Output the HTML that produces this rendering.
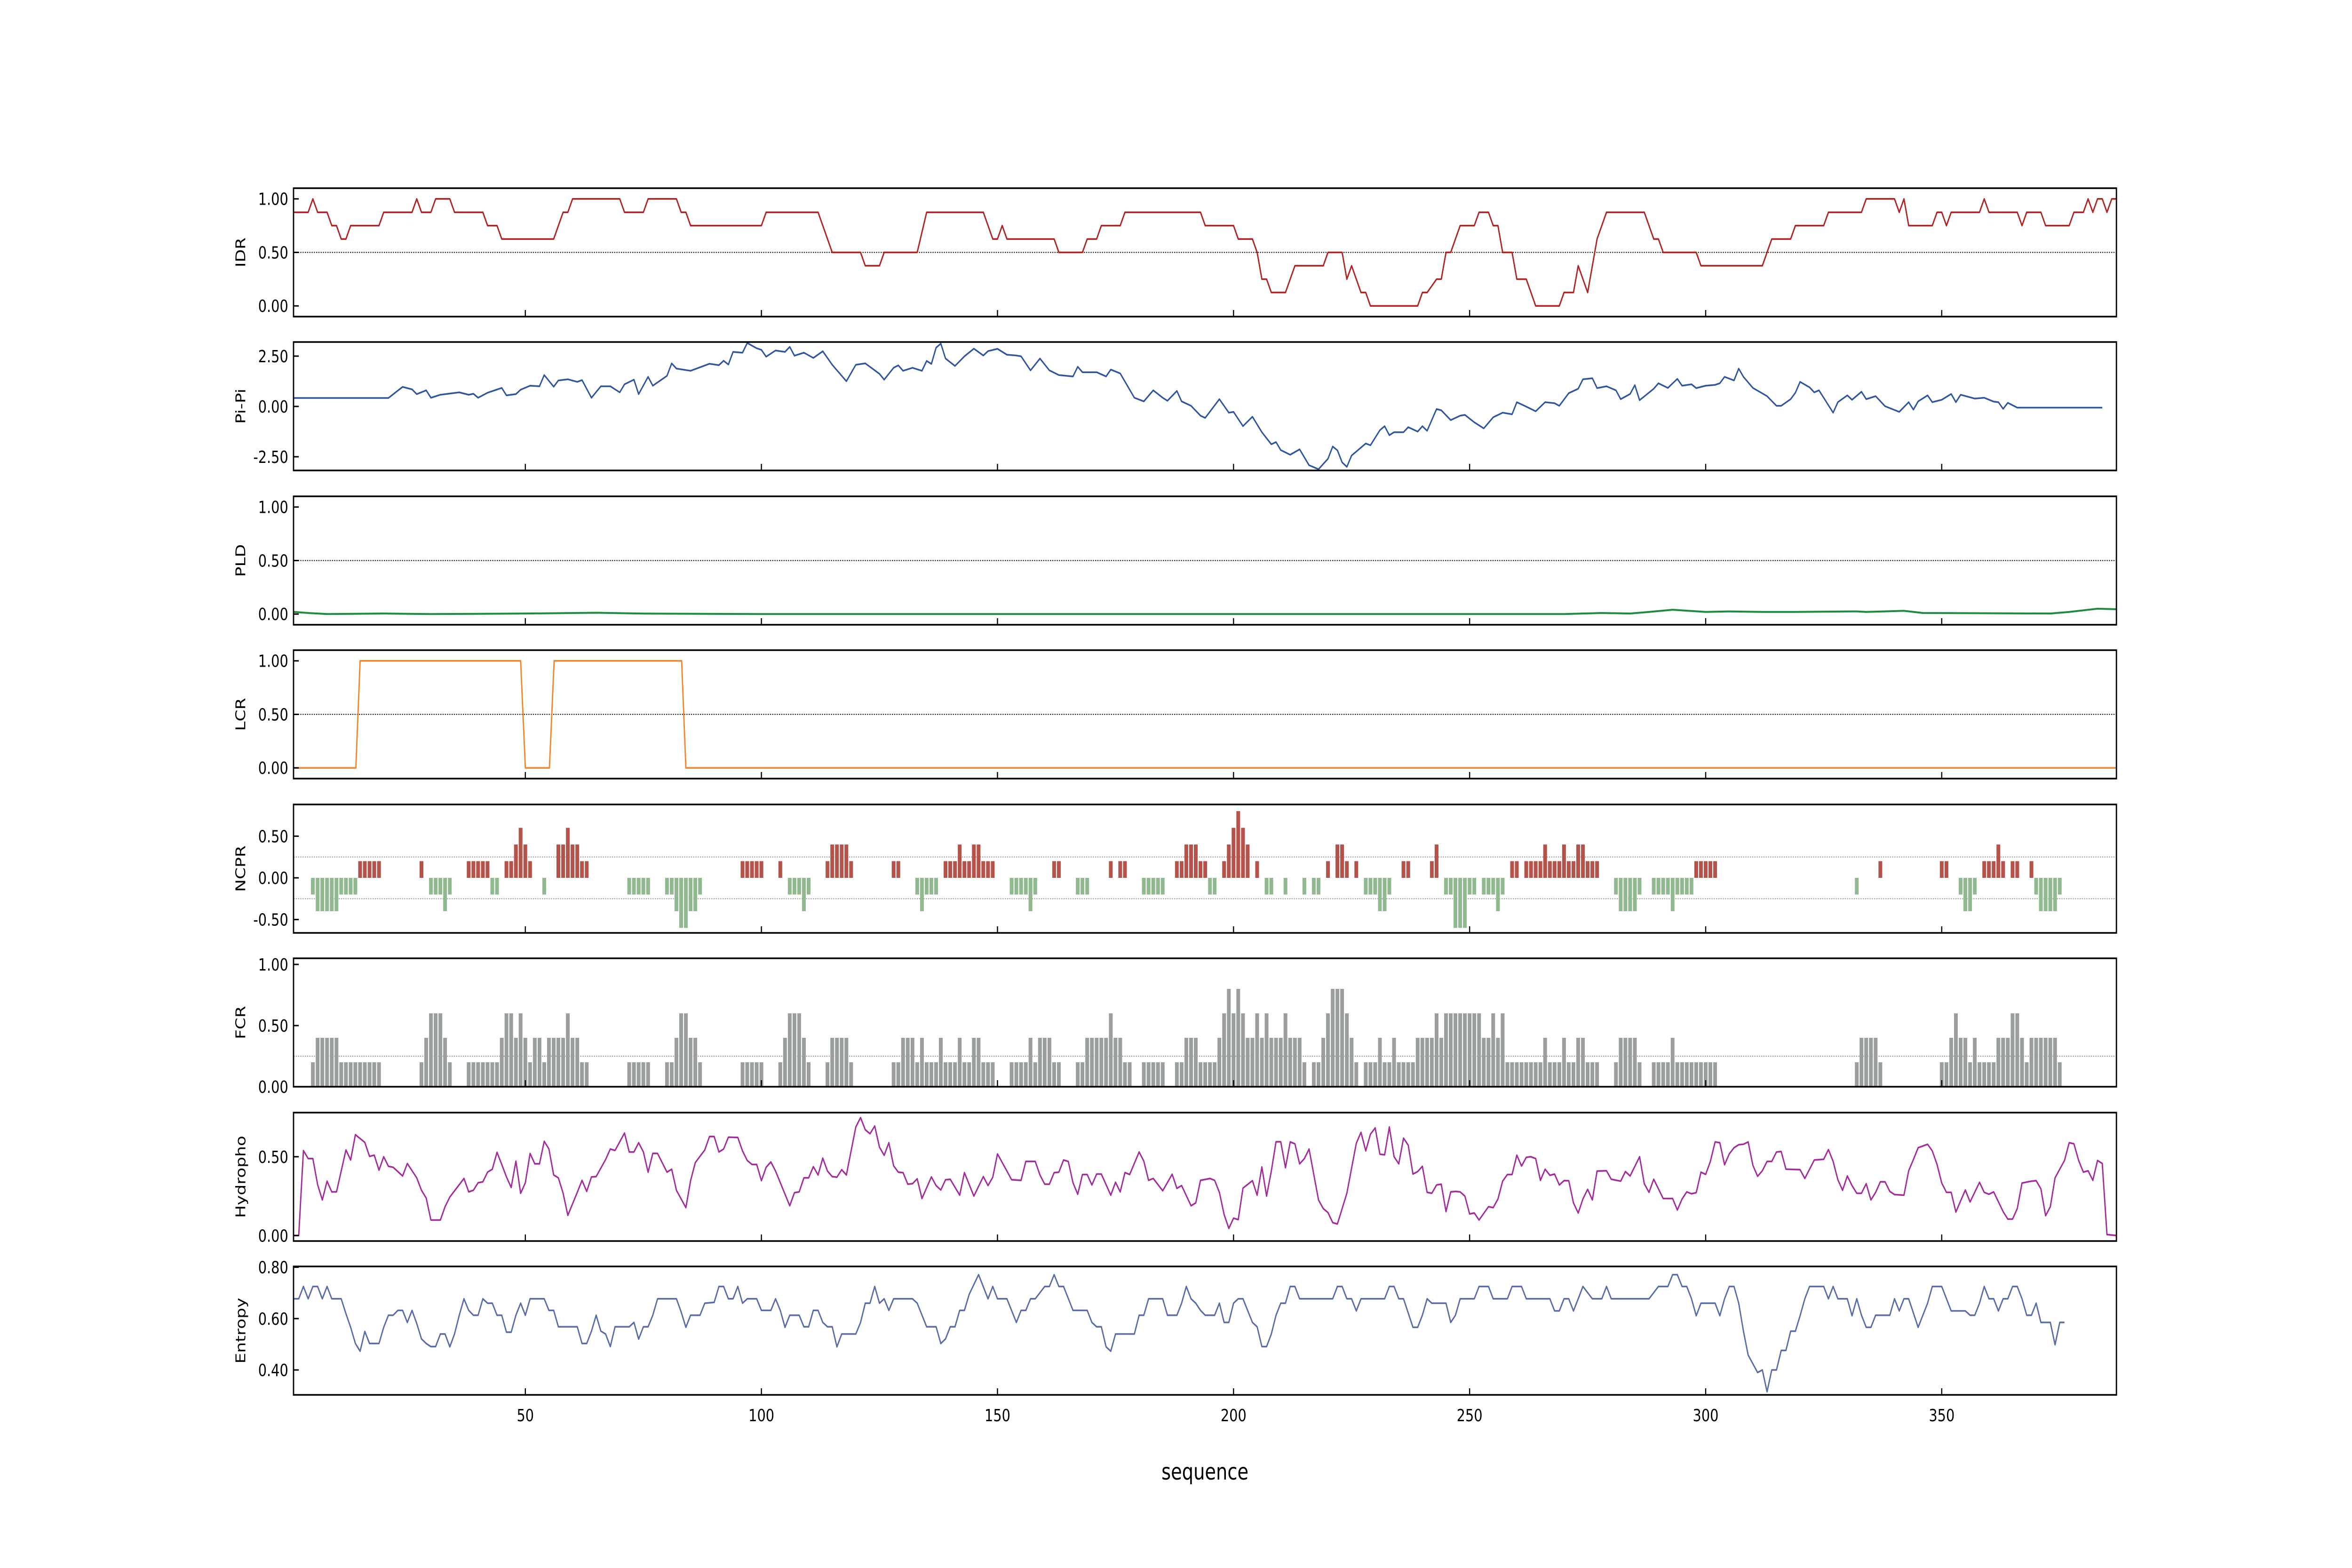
<!DOCTYPE html>
<html><head><meta charset="utf-8"><title>Sequence profile</title>
<style>
html,body{margin:0;padding:0;background:#fff;width:100%;height:100%;overflow:hidden;}
svg{display:block;width:100vw;height:100vh;font-family:"DejaVu Sans","Liberation Sans",sans-serif;}
</style></head>
<body>
<svg id="chart" xmlns="http://www.w3.org/2000/svg" viewBox="0 0 6250 3333" preserveAspectRatio="none">
<rect x="0" y="0" width="6250" height="3333" fill="#fff"/>
<text x="3202" y="3145" font-size="48" text-anchor="middle">sequence</text>
</svg>
<script>
// ---------- data ----------
const xTickValues = [50,100,150,200,250,300,350];
const xTickLabels = ["50","100","150","200","250","300","350"];

const idrPos = [1,4,5,6,8,9,10,11,12,13,19,20,26,27,28,30,31,34,35,41,42,44,45,56,58,59,60,70,71,75,76,82,83,84,85,100,101,112,115,121,122,125,126,133,135,147,149,150,151,152,162,163,168,169,171,172,176,177,193,194,200,201,204,205,206,207,208,211,213,219,220,223,224,225,227,228,229,239,240,241,243,244,245,246,248,251,252,254,255,256,257,259,260,262,264,269,270,272,273,275,277,279,287,289,290,291,298,299,312,314,318,319,325,326,333,334,340,341,342,343,348,349,350,351,352,358,359,360,366,367,368,371,372,377,378,380,381,382,383,384,385,386,387];
const idrVal = [.875,.875,1,.875,.875,.75,.75,.625,.625,.75,.75,.875,.875,1,.875,.875,1,1,.875,.875,.75,.75,.625,.625,.875,.875,1,1,.875,.875,1,1,.875,.875,.75,.75,.875,.875,.5,.5,.375,.375,.5,.5,.875,.875,.625,.625,.75,.625,.625,.5,.5,.625,.625,.75,.75,.875,.875,.75,.75,.625,.625,.5,.25,.25,.125,.125,.375,.375,.5,.5,.25,.375,.125,.125,0,0,.125,.125,.25,.25,.5,.5,.75,.75,.875,.875,.75,.75,.5,.5,.25,.25,0,0,.125,.125,.375,.125,.625,.875,.875,.625,.625,.5,.5,.375,.375,.625,.625,.75,.75,.875,.875,1,1,.875,1,.75,.75,.875,.875,.75,.875,.875,1,.875,.875,.75,.875,.875,.75,.75,.875,.875,1,.875,1,1,.875,1,1];

const pipiPos = [1,21,24,26,27,29,30,32,36,38,39,40,42,45,46,48,49,51,53,54,56,57,59,61,62,64,66,68,70,71,73,74,76,77,80,81,82,85,89,91,92,93,94,96,97,99,100,101,103,105,106,107,109,111,113,115,118,120,122,125,126,128,129,130,132,134,135,136,137,138,139,141,143,145,147,148,150,152,154,155,157,159,161,163,166,167,168,171,173,174,176,179,181,183,185,186,188,189,191,193,194,197,199,200,202,204,206,208,209,210,212,214,216,218,220,221,222,223,224,225,228,229,231,232,233,234,236,237,239,240,241,243,244,246,248,249,251,253,255,257,259,260,262,264,266,268,269,271,273,274,276,277,279,281,282,284,285,286,289,290,292,294,295,297,298,300,302,303,304,306,307,308,310,313,315,316,318,319,320,322,323,324,327,328,330,331,333,334,336,338,341,343,344,345,347,348,350,352,353,354,357,359,361,362,363,364,366,384];
const pipiVal = [.42,.42,.97,.85,.61,.80,.43,.58,.70,.58,.63,.43,.68,.92,.55,.61,.83,1.03,1.0,1.56,.98,1.29,1.35,1.22,1.31,.43,1.0,1.0,.70,1.10,1.33,.61,1.47,1.03,1.52,2.14,1.88,1.77,2.12,2.05,2.27,2.08,2.71,2.67,3.15,2.89,2.81,2.47,2.78,2.71,2.96,2.52,2.67,2.41,2.74,2.07,1.25,2.07,2.14,1.62,1.33,1.92,2.04,1.77,1.92,1.77,2.26,2.11,2.92,3.12,2.38,2.01,2.49,2.87,2.53,2.75,2.86,2.57,2.53,2.49,1.79,2.38,1.79,1.56,1.49,1.97,1.70,1.70,1.49,1.83,1.64,.43,.25,.80,.43,.28,.77,.25,.03,-.46,-.57,.36,-.31,-.27,-.98,-.51,-1.28,-1.88,-1.77,-2.17,-2.4,-2.13,-2.92,-3.12,-2.6,-1.99,-2.18,-2.78,-3.0,-2.44,-1.84,-1.93,-1.18,-.98,-1.43,-1.28,-1.28,-1.03,-1.25,-.98,-1.21,-.13,-.19,-.68,-.46,-.42,-.79,-1.09,-.54,-.31,-.39,.21,-.01,-.24,.21,.16,.03,.66,.88,1.35,1.40,.91,1.0,.80,.36,.62,1.06,.31,.88,1.15,.92,1.37,1.03,1.10,.91,1.03,1.07,1.15,1.47,1.29,1.88,1.47,.92,.51,.03,.03,.36,.68,1.22,.95,.70,.80,-.31,.21,.55,.33,.73,.36,.51,.01,-.27,.21,-.16,.25,.55,.21,.33,.62,.21,.58,.39,.43,.24,.21,-.12,.18,-.06,-.06];

const pldPos = [1,4,8,20,30,50,65,75,100,270,278,284,288,293,300,305,312,319,332,334,342,346,373,377,383,387];
const pldVal = [.02,.01,0,.005,0,.005,.012,.004,0,0,.01,.005,.02,.04,.02,.025,.02,.02,.025,.02,.03,.01,.005,.02,.05,.045];

const lcrPos = [1,14.1,15,49,50,55.1,56.1,83.1,84,387];
const lcrVal = [0,0,1,1,0,0,1,1,0,0];

const ncprStart = [5,6,11,15,28,30,33,34,38,43,46,48,49,50,51,54,57,59,60,62,72,80,82,83,85,87,96,104,106,109,110,114,115,119,128,133,134,135,139,142,143,145,147,153,157,158,162,167,174,176,181,188,190,193,195,198,199,200,201,202,203,205,207,211,215,217,220,222,224,226,228,231,233,236,242,243,245,247,250,253,256,257,259,262,266,267,270,271,273,275,281,282,286,289,293,294,298,332,337,350,354,355,357,359,362,363,365,369,370,371,375];
const ncprEnd   = [5,10,14,19,28,32,33,34,42,44,47,48,49,50,51,54,58,59,61,63,76,81,82,84,86,87,100,104,108,109,110,114,118,119,129,133,134,137,141,142,144,146,149,156,157,158,163,169,174,177,185,189,192,194,196,198,199,200,201,202,203,205,208,211,215,218,220,223,224,226,230,232,233,237,242,243,246,249,251,255,256,257,260,265,266,269,270,272,274,277,281,285,286,292,293,297,302,332,337,351,354,356,357,361,362,363,366,369,370,374,375];
const ncprValue = [-.2,-.4,-.2,.2,.2,-.2,-.4,-.2,.2,-.2,.2,.4,.6,.4,.2,-.2,.4,.6,.4,.2,-.2,-.2,-.4,-.6,-.4,-.2,.2,.2,-.2,-.4,-.2,.2,.4,.2,.2,-.2,-.4,-.2,.2,.4,.2,.4,.2,-.2,-.4,-.2,.2,-.2,.2,.2,-.2,.2,.4,.2,-.2,.2,.4,.6,.8,.6,.4,.2,-.2,-.2,-.2,-.2,.2,.4,.2,.2,-.2,-.4,-.2,.2,.2,.4,-.2,-.6,-.2,-.2,-.4,-.2,.2,.2,.4,.2,.4,.2,.4,.2,-.2,-.4,-.2,-.2,-.4,-.2,.2,-.2,.2,.2,-.2,-.4,-.2,.2,.4,.2,.2,.2,-.2,-.4,-.2];

const fcrStart = [5,6,11,28,29,30,33,34,38,45,46,48,49,50,51,52,54,55,59,60,62,72,80,82,83,85,87,96,104,105,106,109,110,114,115,119,128,130,133,134,135,138,139,142,143,145,147,153,157,158,159,162,167,169,174,175,177,181,188,190,193,197,198,199,200,201,202,203,205,206,207,208,211,212,215,217,219,220,221,224,225,226,228,231,232,234,235,239,243,244,245,253,255,256,257,258,259,266,267,270,271,273,275,281,282,286,289,293,294,332,333,337,350,352,353,354,356,357,358,362,365,367,368,369,375];
const fcrEnd   = [5,10,19,28,29,32,33,34,44,45,47,48,49,50,51,53,54,58,59,61,63,76,81,82,84,86,87,100,104,105,108,109,110,114,118,119,129,132,133,134,137,138,141,142,144,146,149,156,157,158,161,163,168,173,174,176,178,185,189,192,196,197,198,199,200,201,202,204,205,206,207,210,211,214,215,218,219,220,223,224,225,226,230,231,233,234,238,242,243,244,252,254,255,256,257,258,265,266,269,270,272,274,277,281,285,286,292,293,302,332,336,337,351,352,353,355,356,357,361,364,366,367,368,374,375];
const fcrValue = [.2,.4,.2,.2,.4,.6,.4,.2,.2,.4,.6,.4,.6,.4,.2,.4,.2,.4,.6,.4,.2,.2,.2,.4,.6,.4,.2,.2,.2,.4,.6,.4,.2,.2,.4,.2,.2,.4,.2,.4,.2,.4,.2,.4,.2,.4,.2,.2,.4,.2,.4,.2,.2,.4,.6,.4,.2,.2,.2,.4,.2,.4,.6,.8,.6,.8,.6,.4,.6,.4,.6,.4,.6,.4,.2,.2,.4,.6,.8,.6,.4,.2,.2,.4,.2,.4,.2,.4,.6,.4,.6,.4,.6,.4,.6,.2,.2,.4,.2,.4,.2,.4,.2,.2,.4,.2,.2,.4,.2,.2,.4,.2,.2,.4,.6,.4,.2,.4,.2,.4,.6,.4,.2,.4,.2];

const hydroPos = [1,2,3,4,5,6,7,8,9,10,12,13,14,16,17,18,19,20,21,22,24,25,27,28,29,30,32,33,34,37,38,39,40,41,42,43,44,45,46,47,48,49,50,51,52,53,54,55,56,57,58,59,61,62,63,64,65,67,68,69,71,72,73,74,75,76,77,78,80,81,82,84,85,86,88,89,90,91,92,93,95,96,97,98,99,100,101,102,103,106,107,108,109,110,111,112,113,114,115,116,117,118,120,121,122,123,124,125,126,127,128,129,130,131,132,133,134,136,137,138,139,140,142,143,145,147,148,149,150,152,153,155,156,158,159,160,161,162,163,164,165,166,167,168,169,170,171,172,174,175,176,177,178,180,181,182,183,185,187,188,189,191,192,193,195,196,197,198,199,200,201,202,204,205,206,207,208,209,210,211,212,213,214,215,216,218,219,220,221,222,224,226,227,228,229,230,231,232,233,234,235,236,237,238,239,240,241,242,243,244,245,246,247,248,249,250,251,252,254,255,256,257,258,259,260,261,262,263,264,265,266,267,268,269,270,271,272,273,274,275,276,277,279,280,282,283,284,286,287,288,289,291,293,294,295,296,297,298,299,300,301,302,303,304,305,306,307,308,309,310,311,312,313,314,315,316,317,320,321,323,325,326,327,328,329,330,331,332,333,334,335,336,337,338,339,340,342,343,344,345,347,348,349,350,351,352,353,354,355,356,358,359,360,361,363,364,365,366,367,369,370,371,372,373,374,376,377,378,379,380,381,382,383,384,385,387];
const hydroVal = [0,0,.539,.488,.488,.323,.226,.345,.277,.277,.543,.479,.64,.591,.502,.51,.415,.5,.439,.433,.378,.457,.366,.287,.238,.098,.098,.183,.244,.362,.277,.287,.335,.341,.402,.421,.528,.451,.372,.305,.472,.268,.335,.521,.455,.455,.598,.549,.384,.366,.268,.128,.274,.35,.28,.372,.374,.482,.549,.54,.65,.53,.53,.589,.53,.402,.521,.521,.402,.421,.287,.177,.348,.463,.543,.628,.628,.53,.549,.624,.622,.537,.476,.451,.451,.348,.433,.467,.409,.189,.272,.277,.366,.366,.437,.384,.491,.409,.374,.37,.418,.384,.689,.748,.671,.646,.695,.561,.509,.589,.443,.402,.399,.326,.329,.36,.235,.372,.317,.289,.354,.357,.256,.399,.25,.374,.317,.37,.518,.409,.354,.35,.47,.47,.384,.326,.326,.399,.402,.479,.47,.335,.262,.387,.387,.321,.39,.39,.256,.338,.277,.399,.387,.53,.472,.35,.362,.284,.389,.299,.317,.189,.207,.35,.362,.35,.274,.134,.045,.11,.101,.301,.348,.256,.435,.25,.409,.595,.595,.43,.594,.582,.455,.488,.549,.226,.171,.146,.082,.073,.268,.585,.655,.537,.643,.683,.516,.512,.689,.5,.455,.618,.573,.39,.406,.439,.274,.268,.321,.326,.152,.277,.28,.277,.25,.137,.143,.098,.183,.177,.232,.345,.387,.387,.51,.441,.496,.5,.488,.35,.421,.382,.39,.321,.348,.348,.207,.143,.232,.293,.226,.409,.411,.357,.345,.406,.378,.5,.329,.274,.357,.235,.235,.162,.232,.277,.265,.272,.402,.388,.47,.594,.589,.449,.518,.557,.576,.579,.594,.445,.376,.411,.47,.47,.53,.533,.421,.418,.362,.479,.484,.545,.47,.354,.287,.378,.317,.268,.268,.329,.226,.274,.341,.341,.28,.26,.256,.411,.482,.557,.579,.537,.451,.333,.274,.274,.149,.22,.289,.213,.338,.274,.262,.277,.152,.104,.104,.171,.333,.345,.348,.296,.126,.183,.366,.476,.589,.582,.476,.402,.411,.35,.476,.457,.006,0];

const entropyPos = [1,2,3,4,5,6,7,8,9,11,12,13,14,15,16,17,19,20,21,22,23,24,25,26,27,28,29,30,31,32,33,34,35,36,37,38,39,40,41,42,43,44,45,46,47,48,49,50,51,54,55,56,57,61,62,63,64,65,66,67,68,69,72,73,74,75,76,77,78,82,83,84,85,87,88,90,91,92,93,94,95,96,97,99,100,102,103,104,105,106,108,109,110,111,112,113,114,115,116,117,120,121,122,123,124,125,126,127,128,132,133,135,137,138,139,140,141,142,143,144,146,148,149,150,152,154,155,156,157,158,160,161,162,163,164,166,169,170,171,172,173,174,175,179,180,181,182,185,186,188,189,190,191,192,193,194,196,197,198,199,200,201,202,204,205,206,207,208,209,210,211,212,213,214,221,222,223,224,225,226,227,232,233,234,235,236,238,239,240,241,242,245,246,247,248,251,252,254,255,258,259,261,262,267,268,269,270,271,272,273,274,276,278,279,280,288,290,292,293,294,295,296,297,298,299,302,303,304,305,306,307,308,309,311,312,313,314,315,316,317,318,319,320,321,322,325,326,327,328,330,331,332,333,334,335,336,339,340,341,342,343,345,347,348,350,352,355,356,357,358,359,360,361,362,363,364,365,366,367,368,369,370,371,373,374,375,376];
const entropyVal = [.677,.677,.725,.677,.725,.725,.677,.725,.677,.677,.619,.566,.503,.473,.55,.503,.503,.566,.613,.613,.632,.632,.585,.632,.581,.521,.503,.491,.491,.54,.54,.49,.54,.613,.677,.632,.613,.613,.677,.66,.66,.613,.613,.547,.547,.613,.66,.613,.677,.677,.632,.632,.568,.568,.503,.503,.551,.613,.551,.54,.491,.568,.568,.585,.52,.568,.568,.613,.677,.677,.626,.566,.613,.613,.66,.663,.725,.725,.677,.677,.725,.66,.677,.677,.632,.632,.677,.632,.566,.613,.613,.568,.568,.632,.632,.585,.568,.568,.49,.54,.54,.585,.66,.66,.725,.66,.677,.632,.677,.677,.66,.568,.568,.503,.521,.568,.568,.632,.632,.694,.771,.677,.725,.677,.677,.585,.632,.632,.677,.677,.725,.725,.771,.725,.725,.632,.632,.585,.568,.568,.49,.473,.54,.54,.613,.613,.677,.677,.613,.613,.66,.725,.677,.66,.632,.613,.613,.66,.585,.585,.66,.677,.677,.585,.568,.491,.491,.54,.613,.66,.66,.725,.725,.677,.677,.725,.725,.677,.677,.63,.677,.677,.725,.725,.677,.677,.566,.566,.613,.677,.66,.66,.585,.613,.677,.677,.725,.725,.677,.677,.725,.725,.677,.677,.63,.63,.677,.677,.63,.677,.725,.677,.677,.725,.677,.677,.725,.725,.771,.771,.725,.725,.677,.611,.66,.66,.611,.677,.725,.725,.66,.551,.458,.39,.40,.315,.40,.40,.476,.476,.551,.551,.611,.677,.725,.725,.677,.725,.677,.677,.611,.677,.613,.566,.566,.613,.613,.677,.63,.677,.677,.566,.66,.725,.725,.63,.63,.613,.613,.66,.725,.677,.677,.63,.677,.677,.725,.725,.677,.613,.613,.66,.585,.585,.498,.585,.585];

// ---------- layout ----------
const NS = "http://www.w3.org/2000/svg";
const svg = document.getElementById("chart");
const PL = 780, PR = 5624, PH = 273;
const XMIN = 0.9, XMAX = 387;
function X(r){ return PL + (r - XMIN) / (XMAX - XMIN) * (PR - PL); }
function mk(tag, attrs, parent){
  const e = document.createElementNS(NS, tag);
  for (const k in attrs) e.setAttribute(k, attrs[k]);
  (parent || svg).appendChild(e);
  return e;
}
const panels = [
  {id:"idr", label:"IDR", top:400, ymin:-0.1, ymax:1.1, ticks:[0,0.5,1], tickLabels:["0.00","0.50","1.00"], refs:[0.5], refColor:"#000"},
  {id:"pipi", label:"Pi-Pi", top:727, ymin:-3.18, ymax:3.2, ticks:[-2.5,0,2.5], tickLabels:["-2.50","0.00","2.50"], refs:[], refColor:"#000"},
  {id:"pld", label:"PLD", top:1055, ymin:-0.1, ymax:1.1, ticks:[0,0.5,1], tickLabels:["0.00","0.50","1.00"], refs:[0.5], refColor:"#000"},
  {id:"lcr", label:"LCR", top:1382, ymin:-0.1, ymax:1.1, ticks:[0,0.5,1], tickLabels:["0.00","0.50","1.00"], refs:[0.5], refColor:"#000"},
  {id:"ncpr", label:"NCPR", top:1710, ymin:-0.66, ymax:0.88, ticks:[-0.5,0,0.5], tickLabels:["-0.50","0.00","0.50"], refs:[0.25,-0.25], refColor:"#999"},
  {id:"fcr", label:"FCR", top:2037, ymin:0, ymax:1.05, ticks:[0,0.5,1], tickLabels:["0.00","0.50","1.00"], refs:[0.25], refColor:"#999"},
  {id:"hydro", label:"Hydropho", top:2365, ymin:-0.035, ymax:0.78, ticks:[0,0.5], tickLabels:["0.00","0.50"], refs:[], refColor:"#000"},
  {id:"entropy", label:"Entropy", top:2692, ymin:0.303, ymax:0.803, ticks:[0.4,0.6,0.8], tickLabels:["0.40","0.60","0.80"], refs:[], refColor:"#000"}
];
const defs = mk("defs", {});
panels.forEach(function(p, i){
  p.Y = function(v){ return p.top + (p.ymax - v) / (p.ymax - p.ymin) * PH; };
  const cp = mk("clipPath", {id:"clip-" + p.id}, defs);
  mk("rect", {x:PL, y:p.top, width:PR-PL, height:PH}, cp);
  const g = mk("g", {});
  
  
  p.g = g;
  p.plot = mk("g", {"clip-path":"url(#clip-" + p.id + ")"}, g);
  
  
  p.refs.forEach(function(v){
    const l = mk("line", {x1:PL, x2:PR, y1:p.Y(v), y2:p.Y(v), stroke:p.refColor, "stroke-width":2, "stroke-dasharray":"3,3"}, p.plot);
    
    
  });
});
function drawLine(p, xs, ys, color, w){
  const pts = xs.map(function(r, k){ return X(r).toFixed(1) + "," + p.Y(ys[k]).toFixed(1); }).join(" ");
  const pl = mk("polyline", {points:pts, fill:"none", stroke:color, "stroke-width":w, "stroke-linejoin":"round"}, p.plot);
  
  
}
function drawBars(p, starts, ends, vals, posColor, negColor){
  for (let k = 0; k < starts.length; k++){
    for (let r = starts[k]; r <= ends[k]; r++){
      const v = vals[k];
      const y0 = p.Y(0), y1 = p.Y(v);
      const b = mk("rect", {x:(X(r - 0.4)).toFixed(1), y:Math.min(y0, y1).toFixed(1), width:(X(r + 0.4) - X(r - 0.4)).toFixed(1), height:Math.abs(y1 - y0).toFixed(1), fill: v >= 0 ? posColor : negColor}, p.plot);
      
      
    }
  }
}
drawLine(panels[0], idrPos, idrVal, "#b22222", 3.5);
drawLine(panels[1], pipiPos, pipiVal, "#2f54a0", 3.5);
drawLine(panels[2], pldPos, pldVal, "#1f8a40", 4);
drawLine(panels[3], lcrPos, lcrVal, "#f5842a", 3.5);
drawBars(panels[4], ncprStart, ncprEnd, ncprValue, "#b5534a", "#90b990");
drawBars(panels[5], fcrStart, fcrEnd, fcrValue, "#9a9f9c", "#9a9f9c");
drawLine(panels[6], hydroPos, hydroVal, "#a32b9a", 3.5);
drawLine(panels[7], entropyPos, entropyVal, "#5a6ca8", 3.5);

// axes, ticks, labels
panels.forEach(function(p, i){
  const g = p.g;
  const fr = mk("rect", {x:PL, y:p.top, width:PR-PL, height:PH, fill:"none", stroke:"#000", "stroke-width":3.5}, g);
  
  
  p.ticks.forEach(function(v, k){
    const y = p.Y(v);
    const t = mk("line", {x1:PL, x2:PL + 14, y1:y, y2:y, stroke:"#000", "stroke-width":3}, g);
    
    
    const tl = mk("text", {x:PL - 14, y:y + 13, "font-size":36, "text-anchor":"end"}, g);
    tl.textContent = p.tickLabels[k];
    
    
  });
  xTickValues.forEach(function(v, k){
    const x = X(v);
    const t = mk("line", {x1:x, x2:x, y1:p.top + PH, y2:p.top + PH - 14, stroke:"#000", "stroke-width":3}, g);
    
    
    if (i === panels.length - 1){
      const tl = mk("text", {x:x, y:p.top + PH + 56, "font-size":36, "text-anchor":"middle"}, g);
      tl.textContent = xTickLabels[k];
      
      
    }
  });
  const cy = p.top + PH / 2;
  const lab = mk("text", {x:0, y:0, "font-size":36, "text-anchor":"middle", transform:"translate(652," + cy + ") rotate(-90)"}, g);
  lab.textContent = p.label;
  
  
});
</script>
</body></html>
